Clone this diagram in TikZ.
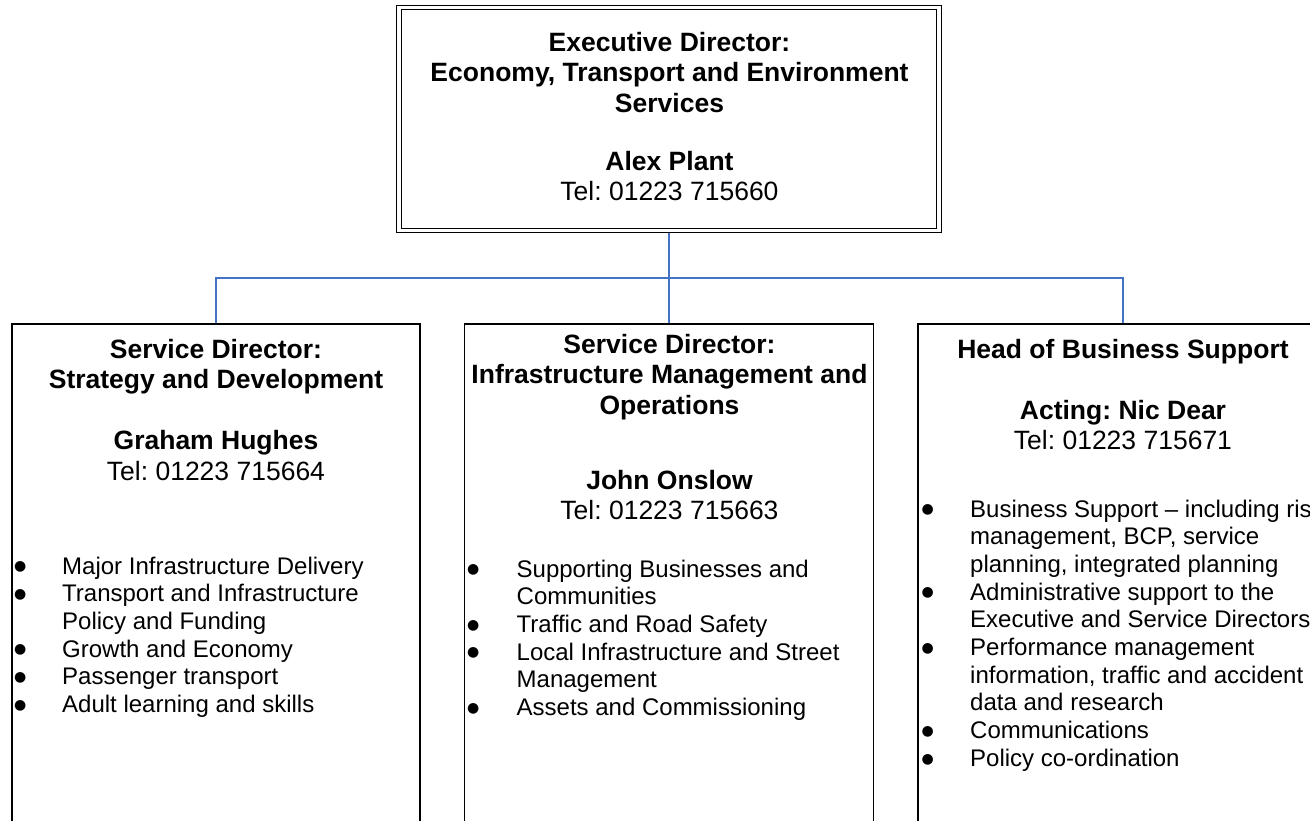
\documentclass[tikz,border=0pt]{standalone}
\usepackage{fontspec}
\setmainfont{Liberation Sans}
\newfontfamily\bulfont{DejaVu Sans}
\frenchspacing
\definecolor{connblue}{RGB}{68,114,196}
\newlength\bltw
\setlength\bltw{49.3pt}
\newcommand\blt{\makebox[\bltw][l]{\raisebox{3.3pt}{\bulfont\fontsize{14}{14}\selectfont ●}}}
\newcommand\ind{\hspace*{\bltw}}
\begin{document}
\begin{tikzpicture}[x=1pt,y=-1pt,
  box/.style={draw=black, line width=1.5pt, minimum width=#1, minimum height=560pt, anchor=north, inner sep=0pt},
  topbox/.style={draw=black, double, double distance=3.2pt, line width=1.1pt, minimum width=540pt, minimum height=223pt, inner sep=0pt, outer sep=2.7pt},
  conn/.style={draw=connblue, line width=1.5pt},
  head/.style={anchor=base, inner sep=0pt, font=\fontsize{26.5}{30.5}\selectfont},
  list/.style={anchor=base west, inner sep=0pt, font=\fontsize{24}{27.7}\selectfont}]
\useasboundingbox (0,0) rectangle (1310,820);
\clip (0,0) rectangle (1310,820);

% boxes
\node[topbox] (exec) at (669,119) {};
\node[box=408pt] (sd) at (216,323) {};
\node[box=409pt] (im) at (669,323) {};
\node[box=410pt] (hb) at (1123,323) {};

% connectors
\coordinate (bus) at (669,278);
\draw[conn] (exec.south) -- (im.north);
\draw[conn] (sd.north) |- (bus) -| (hb.north);

% headings
\node[head] (exect) at (669.5,51) {\begin{tabular}[t]{@{}c@{}}\bfseries Executive Director:\\ \bfseries Economy, Transport and Environment\\ \bfseries Services\\[0pt] \\[-3pt] \bfseries Alex Plant\\ Tel: 01223 715660\end{tabular}};
\node[head] (sdt) at (216,358) {\begin{tabular}[t]{@{}c@{}}\bfseries Service Director:\\ \bfseries Strategy and Development\\ \\ \bfseries Graham Hughes\\ Tel: 01223 715664\end{tabular}};
\node[head] (imt) at (669.5,353) {\begin{tabular}[t]{@{}c@{}}\bfseries Service Director:\\ \bfseries Infrastructure Management and\\ \bfseries Operations\\ \\[14pt] \bfseries John Onslow\\ Tel: 01223 715663\end{tabular}};
\node[head] (hbt) at (1123,358) {\begin{tabular}[t]{@{}c@{}}\bfseries Head of Business Support\\ \\ \bfseries Acting: Nic Dear\\ Tel: 01223 715671\end{tabular}};

% lists
\node[list] (sdl) at (14,574) {\setlength\bltw{48pt}\begin{tabular}[t]{@{}l@{}}\blt Major Infrastructure Delivery\\ \blt Transport and Infrastructure\\ \ind Policy and Funding\\ \blt Growth and Economy\\ \blt Passenger transport\\ \blt Adult learning and skills\end{tabular}};
\node[list] (iml) at (467,577) {\setlength\bltw{49.5pt}\begin{tabular}[t]{@{}l@{}}\blt Supporting Businesses and\\ \ind Communities\\ \blt Traffic and Road Safety\\ \blt Local Infrastructure and Street\\ \ind Management\\ \blt Assets and Commissioning\end{tabular}};
\node[list] (hbl) at (921.5,517) {\setlength\bltw{48.5pt}\begin{tabular}[t]{@{}l@{}}\blt Business Support – including ris\\ \ind management, BCP, service\\ \ind planning, integrated planning\\ \blt Administrative support to the\\ \ind Executive and Service Directors\\ \blt Performance management\\ \ind information, traffic and accident\\ \ind data and research\\ \blt Communications\\ \blt Policy co-ordination\end{tabular}};
\end{tikzpicture}
\end{document}
